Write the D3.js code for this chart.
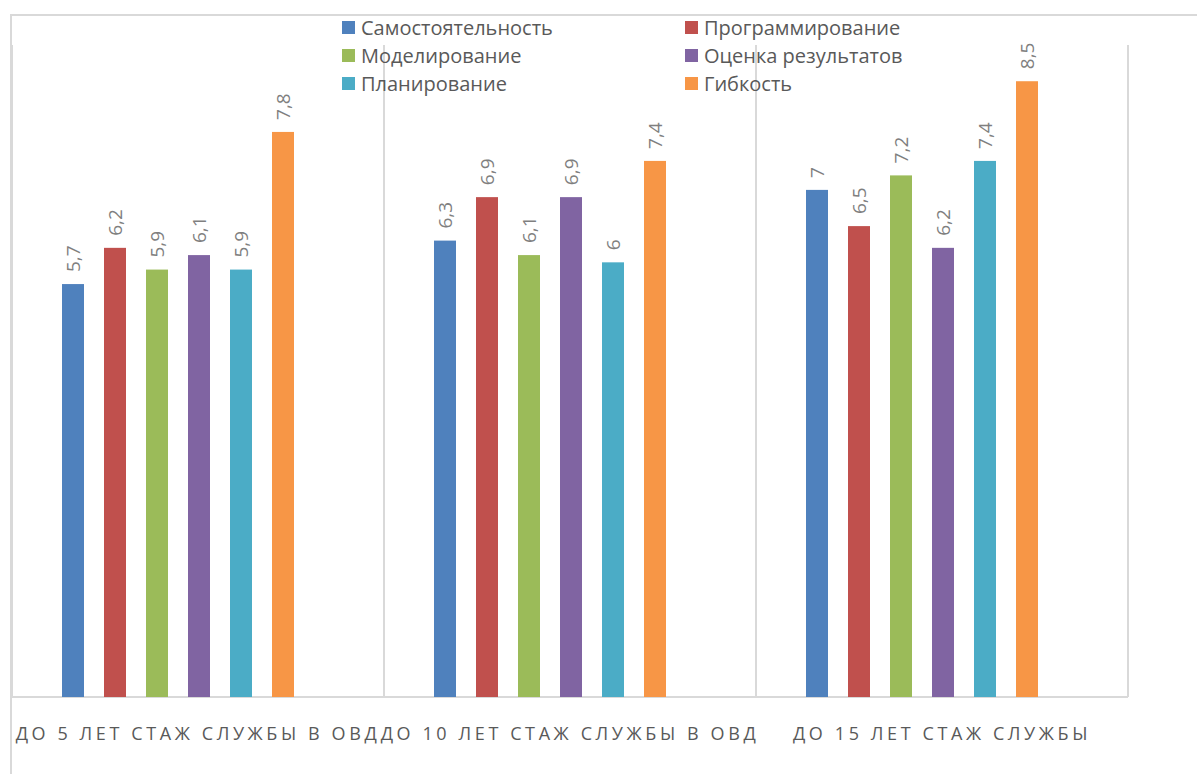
<!DOCTYPE html>
<meta charset="utf-8">
<style>
  body { margin: 0; background: #fff; }
  svg { font-family: "Open Sans", "Noto Sans", sans-serif; }
  .frame { fill: none; stroke: #d9d9d9; stroke-width: 2; }
  .grid line { stroke: #d9d9d9; stroke-width: 2; }
  .label { fill: #7f7f7f; font-size: 19px; }
  .legend text { fill: #595959; font-size: 20px; }
  .cat { fill: #595959; font-size: 18px; letter-spacing: 3.6px; }
</style>
<body>
  <script src="https://d3js.org/d3.v7.min.js"></script>
  <script>

    var categories = ["ДО 5 ЛЕТ СТАЖ СЛУЖБЫ В ОВД", "ДО 10 ЛЕТ СТАЖ СЛУЖБЫ В ОВД", "ДО 15 ЛЕТ СТАЖ СЛУЖБЫ"];
    var series = ["Самостоятельность", "Программирование", "Моделирование", "Оценка результатов", "Планирование", "Гибкость"];
    var colors = ["#4f81bd", "#c0504d", "#9bbb59", "#8064a2", "#4bacc6", "#f79646"];
    // values per category, in series order
    var values = [
      [5.7, 6.2, 5.9, 6.1, 5.9, 7.8],
      [6.3, 6.9, 6.1, 6.9, 6.0, 7.4],
      [7.0, 6.5, 7.2, 6.2, 7.4, 8.5]
    ];

    var width = 1197,
      height = 774,
      plot = { left: 12, right: 1128, top: 45, bottom: 697 };

    var svg = d3.select("body").append("svg")
      .attr("width", width)
      .attr("height", height);

    // chart area border (runs off the right and bottom edges)
    svg.append("rect")
      .attr("class", "frame")
      .attr("x", 11).attr("y", 15)
      .attr("width", 1200).attr("height", 800);

    var x0 = d3.scaleBand()
      .domain(categories)
      .range([plot.left, plot.right]);

    var x1 = d3.scaleBand()
      .domain(series)
      .range([40, 292])
      .paddingInner(20 / 42)
      .paddingOuter(10 / 42);

    var y = d3.scaleLinear()
      .domain([0, 9])
      .range([plot.bottom, plot.top]);

    // vertical dividers between categories
    var grid = svg.append("g").attr("class", "grid");
    grid.selectAll("line")
      .data(categories.map(function (c) { return x0(c); }).concat([plot.right]))
      .enter().append("line")
      .attr("x1", function (d) { return d; })
      .attr("x2", function (d) { return d; })
      .attr("y1", plot.top)
      .attr("y2", plot.bottom);
    grid.append("line")
      .attr("x1", plot.left).attr("x2", plot.right)
      .attr("y1", plot.bottom).attr("y2", plot.bottom);

    var groups = svg.selectAll(".group")
      .data(categories)
      .enter().append("g")
      .attr("class", "group")
      .attr("transform", function (d) { return "translate(" + x0(d) + ",0)"; });

    groups.selectAll("rect")
      .data(function (d, i) { return values[i].map(function (v, j) { return { s: series[j], v: v, c: colors[j] }; }); })
      .enter().append("rect")
      .attr("x", function (d) { return x1(d.s); })
      .attr("width", x1.bandwidth())
      .attr("y", function (d) { return y(d.v); })
      .attr("height", function (d) { return y(0) - y(d.v); })
      .attr("fill", function (d) { return d.c; });

    groups.selectAll(".label")
      .data(function (d, i) { return values[i].map(function (v, j) { return { s: series[j], v: v }; }); })
      .enter().append("text")
      .attr("class", "label")
      .attr("transform", function (d) {
        return "translate(" + (x1(d.s) + x1.bandwidth() / 2 + 7) + "," + (y(d.v) - 12) + ") rotate(-90)";
      })
      .text(function (d) { return String(d.v).replace(".", ","); });

    // category labels
    svg.selectAll(".cat")
      .data(categories)
      .enter().append("text")
      .attr("class", "cat")
      .attr("x", function (d) { return x0(d) + x0.bandwidth() / 2; })
      .attr("y", 740)
      .attr("text-anchor", "middle")
      .text(function (d) { return d; });

    // legend, two columns
    var legend = svg.append("g").attr("class", "legend");
    var item = legend.selectAll("g")
      .data(series)
      .enter().append("g")
      .attr("transform", function (d, i) {
        return "translate(" + (i % 2 ? 685 : 342) + "," + (21 + Math.floor(i / 2) * 28) + ")";
      });
    item.append("rect")
      .attr("width", 13).attr("height", 13)
      .attr("fill", function (d, i) { return colors[i]; });
    item.append("text")
      .attr("x", 19).attr("y", 14)
      .text(function (d) { return d; });

  </script>
</body>
